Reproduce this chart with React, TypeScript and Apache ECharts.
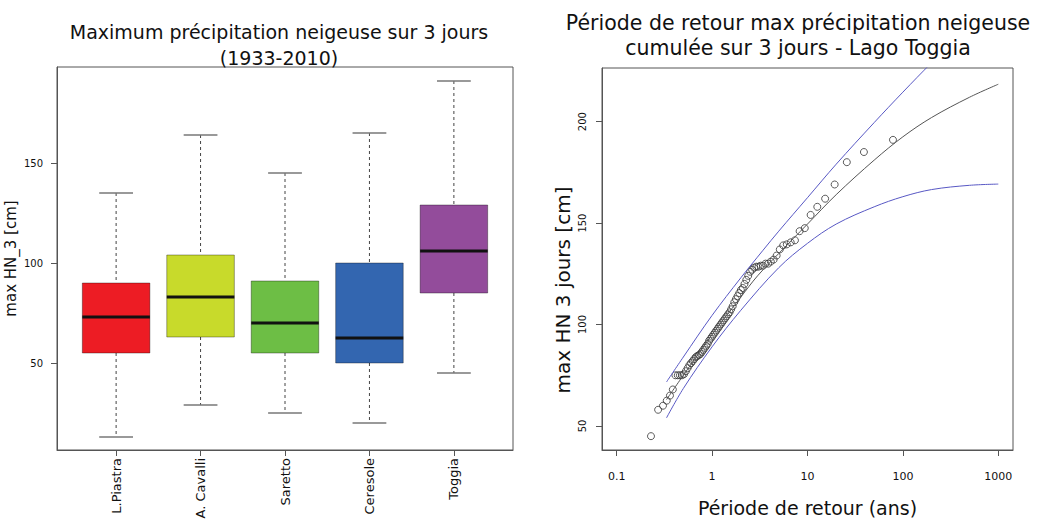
import React, { useEffect, useRef } from 'react';
import * as echarts from 'echarts';

const FONT = 'DejaVu Sans';

// ---------- Left chart: box plots ----------
const stations = ['L.Piastra', 'A. Cavalli', 'Saretto', 'Ceresole', 'Toggia'];
const boxLow = [13, 29, 25, 20, 45];
const boxQ1 = [55, 63, 55, 50, 85];
const boxMedian = [73, 83, 70, 62.5, 106];
const boxQ3 = [90, 104, 91, 100, 129];
const boxHigh = [135, 164, 145, 165, 191];
const boxColors = ['#ED1C24', '#C8DA2B', '#6DBE45', '#3366B0', '#934C9B'];
const boxYTicks = [50, 100, 150];

// ---------- Right chart: return period ----------
const returnPeriods = [
  0.229, 0.272, 0.306, 0.335, 0.362, 0.388, 0.413, 0.437, 0.46, 0.484,
  0.507, 0.531, 0.554, 0.578, 0.602, 0.626, 0.651, 0.676, 0.702, 0.728,
  0.755, 0.782, 0.81, 0.839, 0.869, 0.9, 0.931, 0.964, 0.998, 1.033,
  1.069, 1.107, 1.146, 1.186, 1.228, 1.272, 1.318, 1.367, 1.417, 1.47,
  1.525, 1.583, 1.644, 1.709, 1.777, 1.849, 1.926, 2.007, 2.094, 2.186,
  2.285, 2.391, 2.506, 2.629, 2.762, 2.907, 3.065, 3.236, 3.426, 3.635,
  3.869, 4.127, 4.419, 4.751, 5.128, 5.565, 6.072, 6.671, 7.391, 8.271,
  9.372, 10.79, 12.67, 15.31, 19.27, 25.84, 39.06, 78.74,
];
const observedHN3 = [
  45, 58, 60, 62.5, 65, 68, 75, 75, 75, 75,
  75.5, 77, 78.5, 80, 81, 82, 83, 84, 84.5, 85,
  85.5, 86.5, 87.5, 88.5, 89.5, 90.5, 92, 93, 94, 95,
  96, 97, 98, 99, 100, 101, 102, 103, 104, 105,
  106, 107.5, 109, 111, 112.5, 114, 115.5, 117, 118, 120,
  122, 124, 126, 127, 128, 128.5, 128.5, 129, 129, 130,
  130, 131, 132, 134, 137, 139, 139.5, 140.5, 141.5, 146,
  147.5, 154, 158, 162, 169, 180, 185, 191,
];
const fitT = [0.333, 0.5, 1, 2, 3, 5, 10, 20, 50, 100, 200, 500, 1000];
const fitHN3 = [63, 75, 95, 113.5, 124, 135, 149.5, 164, 181, 192.5, 202, 212, 218.4];
const upperT = [0.333, 0.5, 1, 2, 3.42, 5, 10, 20, 50, 100, 200, 500];
const upperHN3 = [71.7, 84, 104.5, 123, 136.6, 146, 162.5, 179, 199.5, 214.5, 229, 247];
const lowerT = [0.333, 0.5, 1, 2, 5, 10, 20, 50, 100, 200, 500, 1000];
const lowerHN3 = [54, 68.5, 89, 107, 128, 140, 149.5, 158, 163, 166.5, 168.6, 169.2];
const periodTicks = [0.1, 1, 10, 100, 1000];
const hnTicks = [50, 100, 150, 200];

const stationPositions = stations.map((_, i) => i + 1);

export default function App() {
  const ref = useRef<HTMLDivElement>(null);

  useEffect(() => {
    if (!ref.current) return;
    const chart = echarts.init(ref.current, undefined, { renderer: 'svg' });

    const boxData = stations.map((_, i) => [
      stationPositions[i], boxLow[i], boxQ1[i], boxMedian[i], boxQ3[i], boxHigh[i],
    ]);

    const curve = (name: string, xs: number[], ys: number[], color: string) => ({
      type: 'line',
      name,
      xAxisIndex: 1,
      yAxisIndex: 1,
      showSymbol: false,
      smooth: 0.35,
      clip: true,
      lineStyle: { color, width: 1 },
      data: xs.map((t, i) => [t, ys[i]]),
      z: 4,
    });

    const option: any = {
      animation: false,
      textStyle: { fontFamily: FONT },
      grid: [
        {
          left: 57, top: 67, width: 456, height: 383,
          show: true, borderColor: '#555', borderWidth: 1, backgroundColor: 'transparent',
          containLabel: false, outerBoundsMode: 'none',
        },
        {
          left: 602, top: 68, width: 411, height: 382,
          show: true, borderColor: '#555', borderWidth: 1, backgroundColor: 'transparent',
          containLabel: false, outerBoundsMode: 'none',
        },
      ],
      xAxis: [
        {
          type: 'value',
          gridIndex: 0,
          min: 0.3,
          max: 5.7,
          axisLine: { show: true, lineStyle: { color: '#555' } },
          axisTick: { show: true, customValues: stationPositions, length: 6, lineStyle: { color: '#555' } },
          axisLabel: {
            customValues: stationPositions,
            rotate: 90,
            fontSize: 13,
            color: '#111',
            margin: 8,
            fontFamily: FONT,
            formatter: (v: number) => stations[Math.round(v) - 1] ?? '',
          },
          splitLine: { show: false },
        },
        {
          type: 'log',
          logBase: 10,
          gridIndex: 1,
          min: 0.0702,
          max: 1426,
          axisLine: { show: true, lineStyle: { color: '#555' } },
          axisTick: { show: true, customValues: periodTicks, length: 6, lineStyle: { color: '#555' } },
          axisLabel: {
            customValues: periodTicks,
            fontSize: 11,
            color: '#111',
            margin: 21,
            fontFamily: FONT,
            formatter: (v: number) => String(v),
          },
          minorTick: { show: false },
          splitLine: { show: false },
          name: 'Période de retour (ans)',
          nameLocation: 'middle',
          nameGap: 48,
          nameTextStyle: { fontSize: 19, color: '#111', fontFamily: FONT },
        },
      ],
      yAxis: [
        {
          type: 'value',
          gridIndex: 0,
          min: 6.5,
          max: 198,
          axisLine: { show: true, lineStyle: { color: '#555' } },
          axisTick: { show: true, customValues: boxYTicks, length: 6, lineStyle: { color: '#555' } },
          axisLabel: { customValues: boxYTicks, fontSize: 10, color: '#111', margin: 14, fontFamily: FONT },
          splitLine: { show: false },
          name: 'max HN_3 [cm]',
          nameLocation: 'middle',
          nameRotate: 90,
          nameGap: 39,
          nameTextStyle: { fontSize: 15, color: '#111', fontFamily: FONT },
        },
        {
          type: 'value',
          gridIndex: 1,
          min: 38.18,
          max: 226.4,
          axisLine: { show: true, lineStyle: { color: '#555' } },
          axisTick: { show: true, customValues: hnTicks, length: 6, lineStyle: { color: '#555' } },
          axisLabel: { customValues: hnTicks, rotate: 90, fontSize: 10, color: '#111', margin: 15, fontFamily: FONT },
          splitLine: { show: false },
        },
      ],
      graphic: [
        {
          type: 'text',
          x: 279,
          y: 45,
          style: {
            text: 'Maximum précipitation neigeuse sur 3 jours\n(1933-2010)',
            fontSize: 19,
            fontFamily: FONT,
            lineHeight: 26,
            align: 'center',
            verticalAlign: 'middle',
            fill: '#111',
          },
        },
        {
          type: 'text',
          x: 798,
          y: 35,
          style: {
            text: 'Période de retour max précipitation neigeuse\ncumulée sur 3 jours - Lago Toggia',
            fontSize: 20.5,
            fontFamily: FONT,
            lineHeight: 25,
            align: 'center',
            verticalAlign: 'middle',
            fill: '#111',
          },
        },
        {
          type: 'text',
          x: 563,
          y: 290,
          rotation: Math.PI / 2,
          style: {
            text: 'max HN 3 jours [cm]',
            fontSize: 20,
            fontFamily: FONT,
            align: 'center',
            verticalAlign: 'middle',
            fill: '#111',
          },
        },
      ],
      series: [
        {
          type: 'custom',
          name: 'boxplot',
          xAxisIndex: 0,
          yAxisIndex: 0,
          data: boxData,
          encode: { x: 0, y: [1, 2, 3, 4, 5] },
          renderItem: (params: any, api: any) => {
            const idx = params.dataIndex;
            const x = api.value(0);
            const low = api.coord([x, api.value(1)]);
            const q1 = api.coord([x, api.value(2)]);
            const med = api.coord([x, api.value(3)]);
            const q3 = api.coord([x, api.value(4)]);
            const high = api.coord([x, api.value(5)]);
            const half = api.size([0.4, 0])[0];
            const cap = api.size([0.2, 0])[0];
            const cx = low[0];
            const dash = { stroke: '#444', lineWidth: 1, lineDash: [3, 3] };
            const solid = { stroke: '#777', lineWidth: 1.5 };
            return {
              type: 'group',
              children: [
                { type: 'line', shape: { x1: cx, y1: high[1], x2: cx, y2: q3[1] }, style: dash },
                { type: 'line', shape: { x1: cx, y1: q1[1], x2: cx, y2: low[1] }, style: dash },
                { type: 'line', shape: { x1: cx - cap, y1: high[1], x2: cx + cap, y2: high[1] }, style: solid },
                { type: 'line', shape: { x1: cx - cap, y1: low[1], x2: cx + cap, y2: low[1] }, style: solid },
                {
                  type: 'rect',
                  shape: { x: cx - half, y: q3[1], width: half * 2, height: q1[1] - q3[1] },
                  style: { fill: boxColors[idx], stroke: 'rgba(0,0,0,0.35)', lineWidth: 1 },
                },
                {
                  type: 'line',
                  shape: { x1: cx - half, y1: med[1], x2: cx + half, y2: med[1] },
                  style: { stroke: '#111', lineWidth: 3 },
                },
              ],
            };
          },
        },
        {
          type: 'scatter',
          name: 'observé',
          xAxisIndex: 1,
          yAxisIndex: 1,
          symbol: 'circle',
          symbolSize: 7,
          itemStyle: { color: 'rgba(0,0,0,0)', borderColor: '#333', borderWidth: 1 },
          data: returnPeriods.map((t, i) => [t, observedHN3[i]]),
          z: 3,
        },
        curve('ajustement', fitT, fitHN3, '#555'),
        curve('borne sup', upperT, upperHN3, '#5858c4'),
        curve('borne inf', lowerT, lowerHN3, '#5858c4'),
      ],
    };

    chart.setOption(option);
    return () => {
      chart.dispose();
    };
  }, []);

  return (
    <div
      ref={ref}
      style={{ position: 'fixed', left: 0, top: 0, width: 1039, height: 520, background: '#fff' }}
    />
  );
}
